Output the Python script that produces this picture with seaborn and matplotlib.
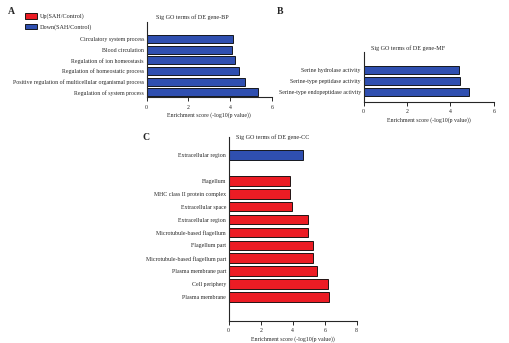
import pandas as pd
import seaborn as sns
import matplotlib.pyplot as plt
from matplotlib.patches import Patch

# dados
bp_terms = ["Circulatory system process", "Blood circulation", "Regulation of ion homeostasis",
            "Regulation of homeostatic process",
            "Positive regulation of multicellular organismal process",
            "Regulation of system process"]
bp_scores = [4.12, 4.10, 4.24, 4.42, 4.72, 5.35]

mf_terms = ["Serine hydrolase activity", "Serine-type peptidase activity",
            "Serine-type endopeptidase activity"]
mf_scores = [4.39, 4.45, 4.85]

cc_terms = ["Extracellular region", "Flagellum", "MHC class II protein complex",
            "Extracellular space", "Extracellular region", "Microtubule-based flagellum",
            "Flagellum part", "Microtubule-based flagellum part", "Plasma membrane part",
            "Cell periphery", "Plasma membrane"]
cc_scores = [4.64, 3.85, 3.85, 3.98, 4.96, 4.96, 5.25, 5.25, 5.54, 6.20, 6.25]
cc_direction = ["Down"] + ["Up"] * 10

legend_labels = ["Up(SAH/Control)", "Down(SAH/Control)"]
RED = "#ec1c24"
BLUE = "#2f4fb0"
colors = {"Up": RED, "Down": BLUE}

sns.set_style("ticks")
plt.rcParams["font.family"] = ["Liberation Serif", "DejaVu Serif"]

W, H = 510, 343
fig = plt.figure(figsize=(W / 100, H / 100), dpi=100)


def px_axes(x0, x1, y0, y1):
    # caixa em pixels (origem no canto superior esquerdo)
    return fig.add_axes([x0 / W, 1 - y1 / H, (x1 - x0) / W, (y1 - y0) / H])


def style(ax, xmax, ylim):
    ax.set_xlim(0, xmax)
    ax.set_ylim(*ylim)
    ax.set_xticks(range(0, xmax + 1, 2))
    sns.despine(ax=ax)
    for s in ["left", "bottom"]:
        ax.spines[s].set_linewidth(0.8)
    ax.tick_params(axis="x", length=3, width=0.7, labelsize=4.2, pad=2.5)
    ax.tick_params(axis="y", length=0, labelsize=4.2, pad=2)
    ax.set_ylabel("")
    ax.set_xlabel("Enrichment score (-log10(p value))", fontsize=4.2, labelpad=2)


def draw(ax, df, order, hue_order):
    sns.barplot(data=df, x="score", y="key", hue="dir", order=order, hue_order=hue_order,
                palette=colors, saturation=1, dodge=False, orient="h", width=0.75,
                edgecolor="black", linewidth=0.6, legend=False, ax=ax)


# A - BP
axA = px_axes(146.7, 272, 21.7, 97)
dfA = pd.DataFrame({"key": bp_terms, "score": bp_scores, "dir": "Down"})
draw(axA, dfA, bp_terms, ["Down"])
style(axA, 6, (5.44, -1.62))
fig.text(192 / W, 1 - 17.3 / H, "Sig GO terms of DE gene-BP", fontsize=4.4, ha="center", va="center")

# B - MF
axB = px_axes(363.7, 493.9, 51.7, 101.7)
dfB = pd.DataFrame({"key": mf_terms, "score": mf_scores, "dir": "Down"})
draw(axB, dfB, mf_terms, ["Down"])
style(axB, 6, (2.91, -1.64))
fig.text(408 / W, 1 - 47.7 / H, "Sig GO terms of DE gene-MF", fontsize=4.4, ha="center", va="center")

# C - CC (linha vazia entre down e up)
axC = px_axes(228.7, 356.7, 136.7, 320.7)
keys = [f"cc{i}" for i in range(len(cc_terms))]
dfC = pd.DataFrame({"key": keys, "score": cc_scores, "dir": cc_direction})
orderC = [keys[0], "gap"] + keys[1:]
draw(axC, dfC, orderC, ["Up", "Down"])
style(axC, 8, (12.83, -1.41))
axC.set_yticks(range(len(orderC)))
axC.set_yticklabels([cc_terms[0], ""] + cc_terms[1:])
fig.text(273 / W, 1 - 137 / H, "Sig GO terms of DE gene-CC", fontsize=4.4, ha="center", va="center")

# letras dos paineis
for lab, x, y in [("A", 8, 12), ("B", 277, 11), ("C", 143, 138)]:
    fig.text(x / W, 1 - y / H, lab, fontsize=7, fontweight="bold", ha="left", va="center")

# legenda
handles = [Patch(facecolor=RED, edgecolor="black", linewidth=0.6),
           Patch(facecolor=BLUE, edgecolor="black", linewidth=0.6)]
fig.legend(handles, legend_labels, loc="upper left", bbox_to_anchor=(22 / W, 1 - 10 / H),
           frameon=False, fontsize=4.4, handlelength=1.9, handleheight=1.0,
           labelspacing=0.75, handletextpad=0.5, borderpad=0)

fig.savefig("out.png", dpi=100)
